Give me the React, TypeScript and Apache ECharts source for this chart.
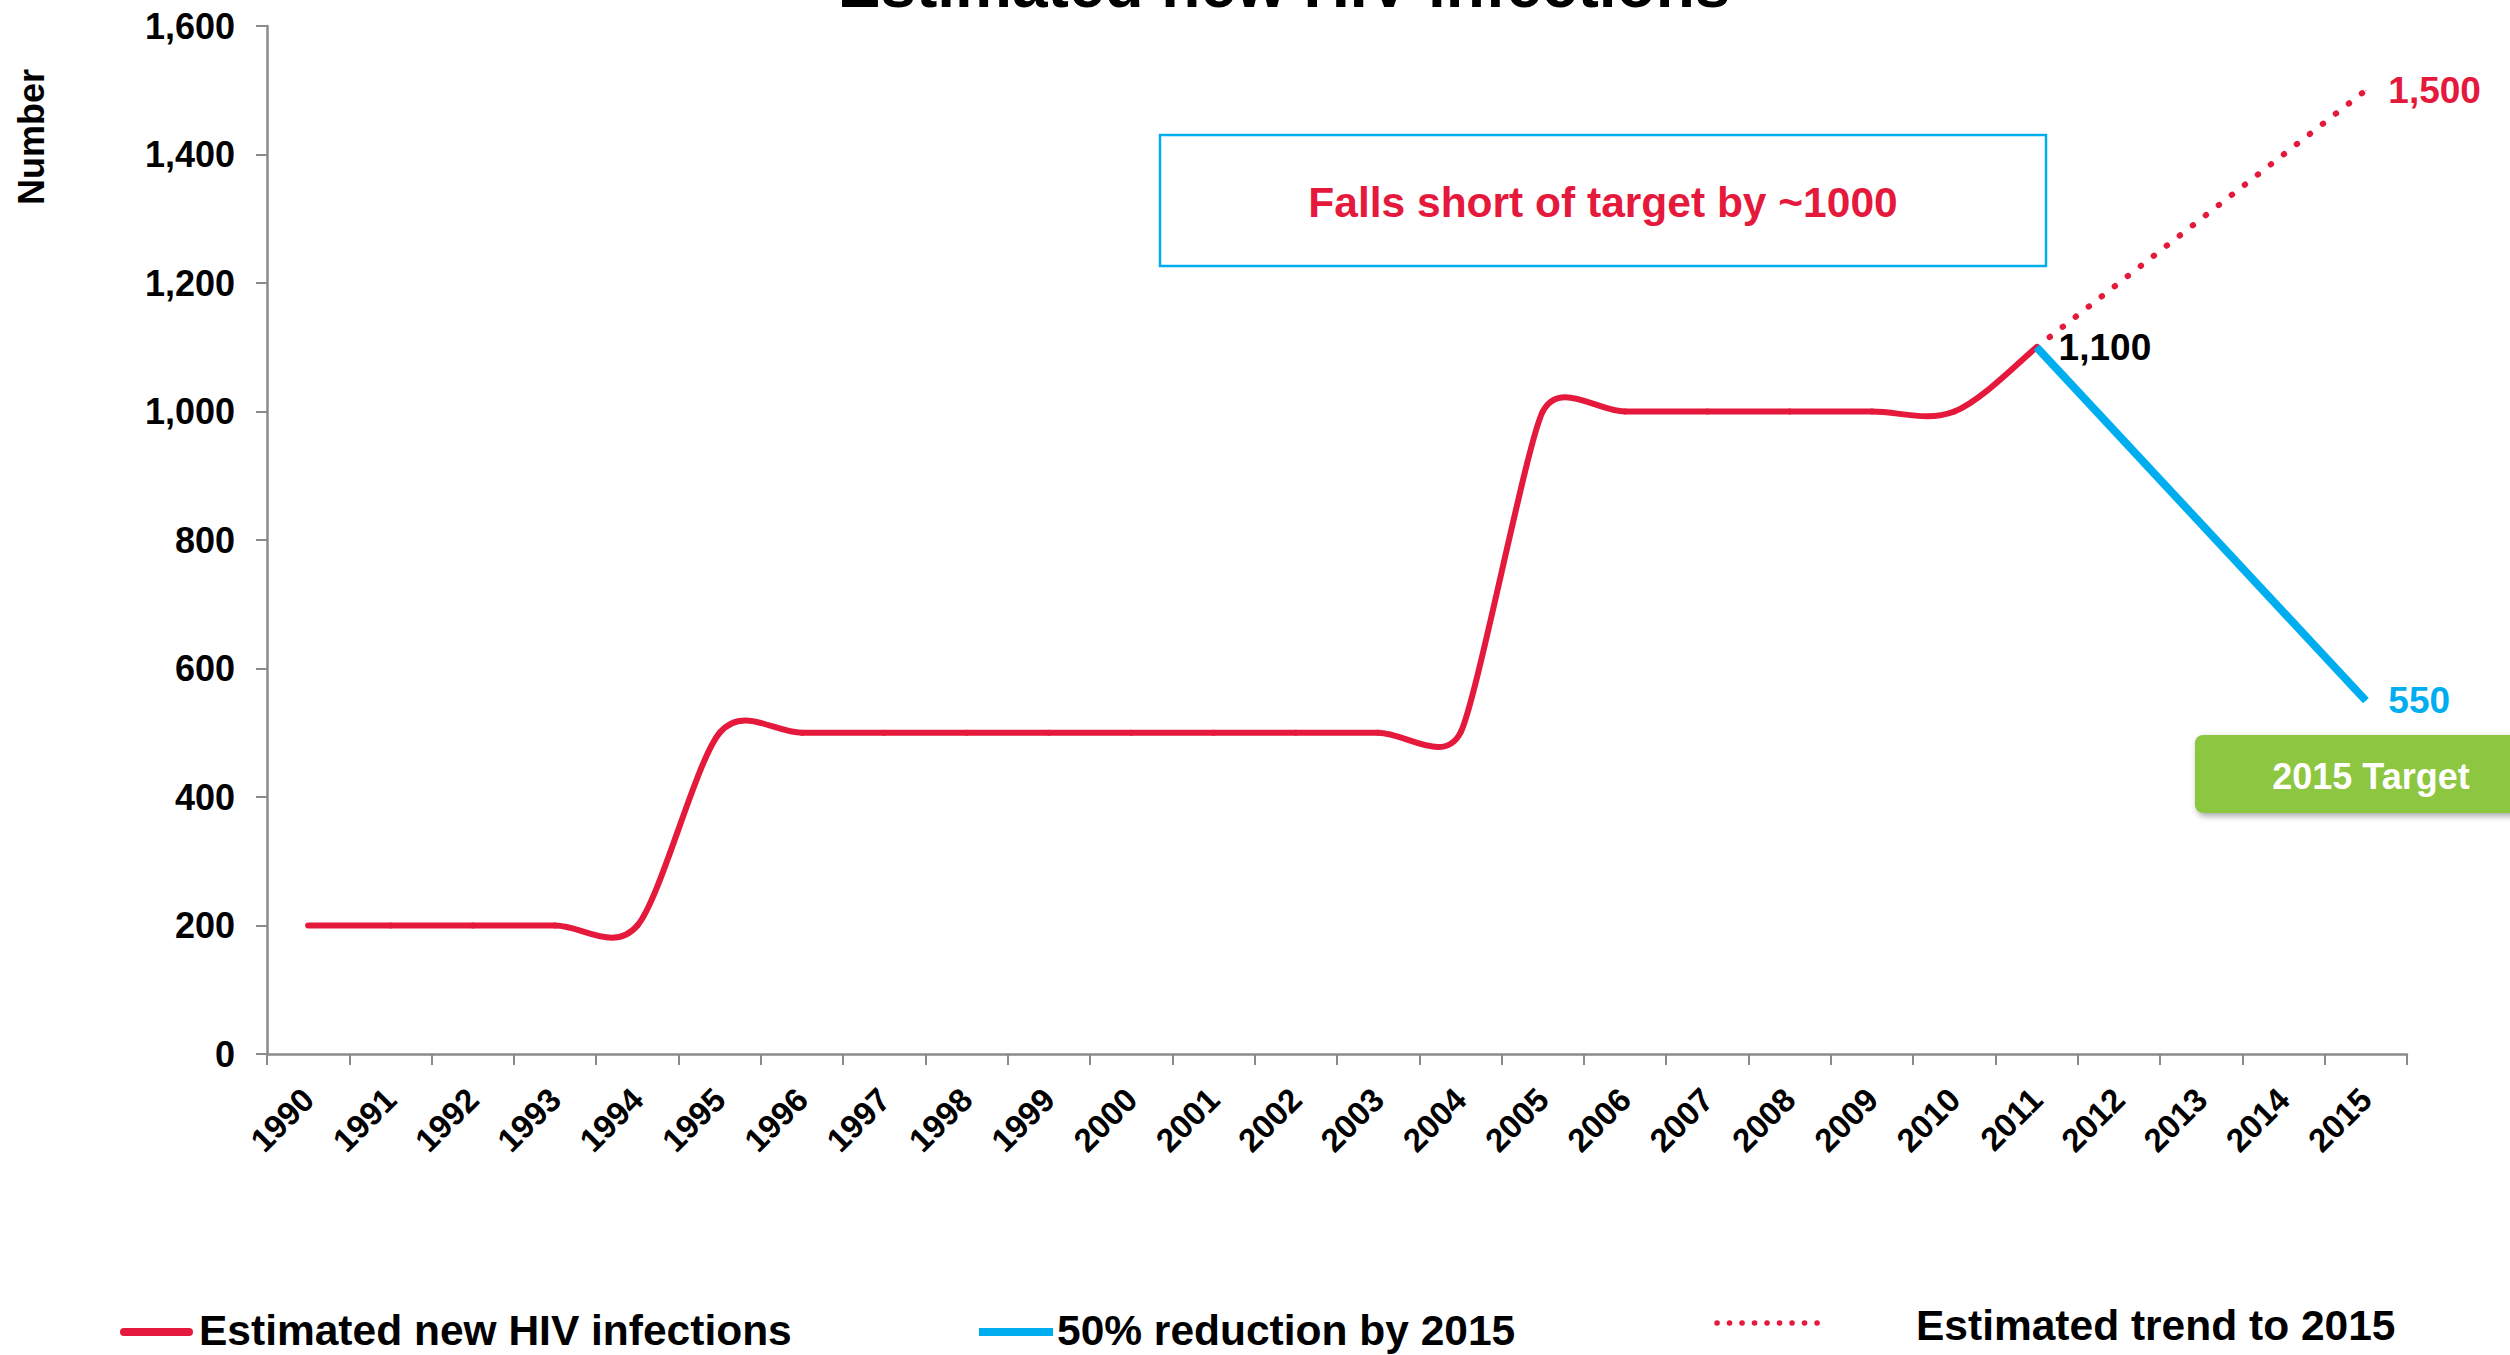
import React, { useEffect, useRef } from "react";
import * as echarts from "echarts";

const years = [
  "1990", "1991", "1992", "1993", "1994", "1995", "1996", "1997", "1998", "1999",
  "2000", "2001", "2002", "2003", "2004", "2005", "2006", "2007", "2008", "2009",
  "2010", "2011", "2012", "2013", "2014", "2015",
];

const estimatedInfections: (number | null)[] = [
  200, 200, 200, 200, 200, 500, 500, 500, 500, 500,
  500, 500, 500, 500, 500, 1000, 1000, 1000, 1000, 1000,
  1000, 1100, null, null, null, null,
];

const reductionTarget: (number | null)[] = [
  null, null, null, null, null, null, null, null, null, null,
  null, null, null, null, null, null, null, null, null, null,
  null, 1100, null, null, null, 550,
];

const estimatedTrend: (number | null)[] = [
  null, null, null, null, null, null, null, null, null, null,
  null, null, null, null, null, null, null, null, null, null,
  null, 1100, null, null, null, 1500,
];

const seriesNames = [
  "Estimated new HIV infections",
  "50% reduction by 2015",
  "Estimated trend to 2015",
];

const RED = "#E4193C";
const BLUE = "#00AEEF";
const GREEN = "#8DC63F";
const AXIS = "#8A8A8A";
const FONT = "'Liberation Sans', Arial, Helvetica, sans-serif";
const HANDLE_CAP = 0.44;

const fmt = (v: number) => v.toLocaleString("en-US");

function toData(arr: (number | null)[], labelIndex: number, color: string) {
  return arr.map((v, i) => {
    if (v === null) return "-";
    if (i === labelIndex) {
      return {
        value: v,
        label: {
          show: true,
          position: "right",
          distance: 22,
          formatter: fmt(v),
          color,
          fontFamily: FONT,
          fontWeight: "bold",
          fontSize: 37,
        },
      };
    }
    return v;
  });
}

export default function App() {
  const ref = useRef<HTMLDivElement>(null);

  useEffect(() => {
    if (!ref.current) return;
    const chart = echarts.init(ref.current, undefined, { renderer: "svg" });
    const n = estimatedInfections.length;
    const lastMain = estimatedInfections.reduce(
      (acc: number, v, i) => (v !== null ? i : acc),
      0
    );
    const lastIdx = years.length - 1;
    const mainPoints = estimatedInfections
      .map((v, i) => (v === null ? null : [i, v]))
      .filter((p) => p !== null);

    const valid = (j: number) =>
      j >= 0 && j < n && estimatedInfections[j] !== null;

    // Catmull-Rom style handles, with their length capped (pixels)
    const controls = (api: any, j: number) => {
      const pt = (k: number) => api.coord([k, estimatedInfections[k]]);
      const cur = pt(j);
      const hasPrev = valid(j - 1);
      const hasNext = valid(j + 1);
      const prev = hasPrev ? pt(j - 1) : cur;
      const next = hasNext ? pt(j + 1) : cur;
      let tx = (next[0] - prev[0]) / 6;
      let ty = (next[1] - prev[1]) / 6;
      const d0 = Math.hypot(cur[0] - prev[0], cur[1] - prev[1]);
      const d1 = Math.hypot(next[0] - cur[0], next[1] - cur[1]);
      const dmin = hasPrev && hasNext ? Math.min(d0, d1) : Math.max(d0, d1);
      const len = Math.hypot(tx, ty);
      const cap = HANDLE_CAP * dmin;
      if (len > cap && len > 0) {
        tx *= cap / len;
        ty *= cap / len;
      }
      return {
        cur,
        cin: [cur[0] - tx, cur[1] - ty],
        cout: [cur[0] + tx, cur[1] + ty],
      };
    };

    const renderMain = (params: any, api: any) => {
      const i = api.value(0) as number;
      const children: any[] = [];
      const a = controls(api, i);
      if (valid(i + 1)) {
        const b = controls(api, i + 1);
        children.push({
          type: "bezierCurve",
          shape: {
            x1: a.cur[0],
            y1: a.cur[1],
            cpx1: a.cout[0],
            cpy1: a.cout[1],
            cpx2: b.cin[0],
            cpy2: b.cin[1],
            x2: b.cur[0],
            y2: b.cur[1],
          },
          style: { stroke: RED, lineWidth: 6, fill: "none", lineCap: "round" },
        });
      }
      if (i === lastMain) {
        children.push({
          type: "text",
          x: a.cur[0] + 22,
          y: a.cur[1],
          style: {
            text: fmt(estimatedInfections[i] as number),
            fill: "#000",
            font: `bold 37px ${FONT}`,
            textAlign: "left",
            textVerticalAlign: "middle",
          },
          z2: 10,
        });
      }
      return { type: "group", children };
    };

    const option: any = {
      animation: false,
      backgroundColor: "#ffffff",
      grid: { left: 267, right: 103, top: 26, bottom: 301 },
      xAxis: {
        type: "category",
        data: years,
        boundaryGap: true,
        axisLine: { show: true, lineStyle: { color: AXIS, width: 2.5 } },
        axisTick: {
          show: true,
          interval: 0,
          length: 11,
          lineStyle: { color: AXIS, width: 2 },
        },
        axisLabel: {
          interval: 0,
          rotate: 45,
          margin: 40,
          color: "#000",
          fontFamily: FONT,
          fontWeight: "bold",
          fontSize: 33,
        },
        splitLine: { show: false },
      },
      yAxis: {
        type: "value",
        min: 0,
        max: 1600,
        interval: 200,
        axisLine: { show: true, lineStyle: { color: AXIS, width: 2.5 } },
        axisTick: {
          show: true,
          length: 11,
          lineStyle: { color: AXIS, width: 2 },
        },
        axisLabel: {
          margin: 32,
          color: "#000",
          fontFamily: FONT,
          fontWeight: "bold",
          fontSize: 36,
          formatter: (v: number) => fmt(v),
        },
        splitLine: { show: false },
      },
      series: [
        {
          name: seriesNames[0],
          type: "custom",
          data: mainPoints,
          encode: { x: 0, y: 1 },
          renderItem: renderMain,
          z: 2,
        },
        {
          name: seriesNames[2],
          type: "line",
          data: toData(estimatedTrend, lastIdx, RED),
          connectNulls: true,
          symbol: "circle",
          symbolSize: 1,
          showSymbol: true,
          showAllSymbol: true,
          itemStyle: { color: RED },
          lineStyle: { color: RED, width: 6, type: [0.5, 16], cap: "round" },
          z: 3,
        },
        {
          name: seriesNames[1],
          type: "line",
          data: toData(reductionTarget, lastIdx, BLUE),
          connectNulls: true,
          symbol: "circle",
          symbolSize: 1,
          showSymbol: true,
          showAllSymbol: true,
          itemStyle: { color: BLUE },
          lineStyle: { color: BLUE, width: 8 },
          z: 4,
        },
      ],
      graphic: [
        {
          type: "text",
          x: 1284,
          y: -15,
          style: {
            text: "Estimated new HIV infections",
            fill: "#000",
            font: `bold 64px ${FONT}`,
            textAlign: "center",
            textVerticalAlign: "middle",
          },
        },
        {
          type: "text",
          x: 31,
          y: 137,
          rotation: Math.PI / 2,
          style: {
            text: "Number",
            fill: "#000",
            font: `bold 36px ${FONT}`,
            textAlign: "center",
            textVerticalAlign: "middle",
          },
        },
        {
          type: "rect",
          shape: { x: 1160, y: 135, width: 886, height: 131 },
          style: { fill: "none", stroke: BLUE, lineWidth: 2.5 },
        },
        {
          type: "text",
          x: 1603,
          y: 202,
          style: {
            text: "Falls short of target by ~1000",
            fill: RED,
            font: `bold 42.5px ${FONT}`,
            textAlign: "center",
            textVerticalAlign: "middle",
          },
        },
        {
          type: "rect",
          shape: { x: 2195, y: 735, width: 340, height: 78, r: 8 },
          style: {
            fill: GREEN,
            shadowBlur: 6,
            shadowOffsetX: 2,
            shadowOffsetY: 3,
            shadowColor: "rgba(0,0,0,0.35)",
          },
        },
        {
          type: "text",
          x: 2371,
          y: 776,
          style: {
            text: "2015 Target",
            fill: "#fff",
            font: `bold 36px ${FONT}`,
            textAlign: "center",
            textVerticalAlign: "middle",
          },
        },
        // legend
        {
          type: "line",
          shape: { x1: 124, y1: 1332, x2: 189, y2: 1332 },
          style: { stroke: RED, lineWidth: 8, lineCap: "round" },
        },
        {
          type: "text",
          x: 199,
          y: 1330,
          style: {
            text: seriesNames[0],
            fill: "#000",
            font: `bold 42.5px ${FONT}`,
            textAlign: "left",
            textVerticalAlign: "middle",
          },
        },
        {
          type: "line",
          shape: { x1: 979, y1: 1332, x2: 1053, y2: 1332 },
          style: { stroke: BLUE, lineWidth: 8 },
        },
        {
          type: "text",
          x: 1057,
          y: 1330,
          style: {
            text: seriesNames[1],
            fill: "#000",
            font: `bold 42.5px ${FONT}`,
            textAlign: "left",
            textVerticalAlign: "middle",
          },
        },
        {
          type: "line",
          shape: { x1: 1717, y1: 1323, x2: 1818, y2: 1323 },
          style: {
            stroke: RED,
            lineWidth: 5.5,
            lineCap: "round",
            lineDash: [0.1, 12.4],
          },
        },
        {
          type: "text",
          x: 1916,
          y: 1325,
          style: {
            text: seriesNames[2],
            fill: "#000",
            font: `bold 42.5px ${FONT}`,
            textAlign: "left",
            textVerticalAlign: "middle",
          },
        },
      ],
    };

    chart.setOption(option);
    return () => chart.dispose();
  }, []);

  return (
    <div
      ref={ref}
      style={{ position: "fixed", left: 0, top: 0, width: 2510, height: 1355 }}
    />
  );
}
